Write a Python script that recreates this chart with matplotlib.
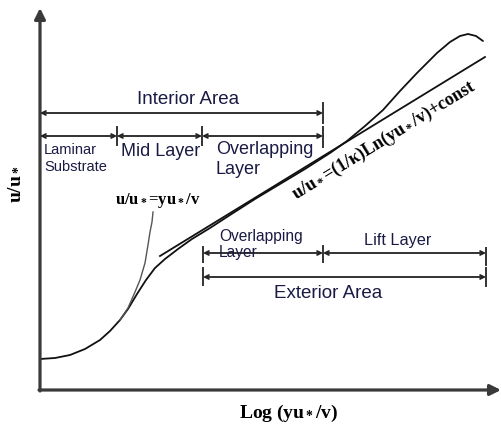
import matplotlib
matplotlib.use("Agg")
import matplotlib.pyplot as plt

plt.rcParams['mathtext.fontset'] = 'custom'
plt.rcParams['mathtext.rm'] = 'Liberation Serif:bold'
plt.rcParams['mathtext.it'] = 'Liberation Serif:bold'
plt.rcParams['mathtext.bf'] = 'Liberation Serif:bold'

# main velocity profile (pixel coords)
curve_x = [40, 55, 70, 85, 100, 110, 120, 128, 137, 146, 155, 165, 178, 192, 210, 230,
           255, 280, 305, 330, 347, 365, 383, 400, 417, 437, 450, 460, 468, 476, 483]
curve_y = [359, 358, 355, 349, 340, 331, 320, 309, 294, 280, 268, 259, 249, 239, 228, 215,
           199, 184, 169, 153, 141, 126, 110, 91, 73, 53, 42, 36, 34, 36, 41]

# log law line
log_x = [160, 485]
log_y = [256, 57]

# viscous sublayer line u/u* = yu*/v
visc_x = [120, 128, 135, 140, 145, 148, 150, 152, 153]
visc_y = [320, 308, 292, 280, 263, 245, 232, 222, 212]

# region spans: (y, boundaries)
inner_top = (113, [40, 323])
inner_rows = (136, [40, 117, 202, 323])
outer_rows = (253, [203, 323, 486])
outer_bottom = (277, [203, 486])

# end ticks: (x, y0, y1)
ticks = [(323, 103, 123), (117, 127, 145), (202, 127, 145), (323, 127, 147),
         (203, 247, 262), (323, 246, 262), (486, 248, 265),
         (203, 268, 285), (486, 268, 286)]

txt_col = '#1a1a44'
line_col = '#222222'

fig = plt.figure(figsize=(5.01, 4.30), dpi=100)
ax = fig.add_axes([0, 0, 1, 1])
ax.set_xlim(0, 501)
ax.set_ylim(430, 0)
ax.axis('off')

# axes with arrows
ax.annotate('', xy=(40, 8), xytext=(40, 391),
            arrowprops=dict(arrowstyle='-|>', lw=2.3, color='#3a3a3a',
                            mutation_scale=16, shrinkA=0, shrinkB=0))
ax.annotate('', xy=(501, 390), xytext=(39, 390),
            arrowprops=dict(arrowstyle='-|>', lw=2.3, color='#3a3a3a',
                            mutation_scale=16, shrinkA=0, shrinkB=0))

# curves
ax.plot(curve_x, curve_y, color='#111111', lw=1.3, solid_capstyle='round')
ax.plot(log_x, log_y, color='#111111', lw=1.3)
ax.plot(visc_x, visc_y, color='#555555', lw=1.0)


def spans(row):
    y, b = row
    for x0, x1 in zip(b[:-1], b[1:]):
        ax.annotate('', xy=(x1, y), xytext=(x0, y),
                    arrowprops=dict(arrowstyle='<->', lw=1.3, color=line_col,
                                    mutation_scale=7, shrinkA=0, shrinkB=0))


for r in (inner_top, inner_rows, outer_rows, outer_bottom):
    spans(r)

for x, y0, y1 in ticks:
    ax.plot([x, x], [y0, y1], color='#333333', lw=1.4)

sans = 'Liberation Sans'
ax.text(188, 99, 'Interior Area', ha='center', va='center', fontsize=13.5,
        family=sans, color=txt_col)
ax.text(44, 150, 'Laminar', ha='left', va='center', fontsize=10.5, family=sans, color=txt_col)
ax.text(44, 167, 'Substrate', ha='left', va='center', fontsize=10.5, family=sans, color=txt_col)
ax.text(161, 152, 'Mid Layer', ha='center', va='center', fontsize=13, family=sans, color=txt_col)
ax.text(216, 150, 'Overlapping', ha='left', va='center', fontsize=13, family=sans, color=txt_col)
ax.text(216, 170, 'Layer', ha='left', va='center', fontsize=13, family=sans, color=txt_col)

ax.text(219, 236, 'Overlapping', ha='left', va='center', fontsize=11.2, family=sans, color=txt_col)
ax.text(219, 253, 'Layer', ha='left', va='center', fontsize=11.2, family=sans, color=txt_col)
ax.text(398, 240, 'Lift Layer', ha='center', va='center', fontsize=11.7, family=sans, color=txt_col)
ax.text(328, 294, 'Exterior Area', ha='center', va='center', fontsize=13.5, family=sans, color=txt_col)

serif = 'Liberation Serif'
ax.text(158, 200, r'u/u$_*$=yu$_*$/v', ha='center', va='center', fontsize=12,
        family=serif, weight='bold')
ax.text(289, 413, r'Log (yu$_*$/v)', ha='center', va='center', fontsize=14,
        family=serif, weight='bold')
ax.text(15, 184, r'u/u$_*$', ha='center', va='center', fontsize=14, rotation=90,
        family=serif, weight='bold')
ax.text(384, 140, r'u/u$_*$=(1/κ)Ln(yu$_*$/v)+const', ha='center', va='center',
        fontsize=13, rotation=31.5, family=serif, weight='bold')

fig.savefig('out.png', dpi=100)
